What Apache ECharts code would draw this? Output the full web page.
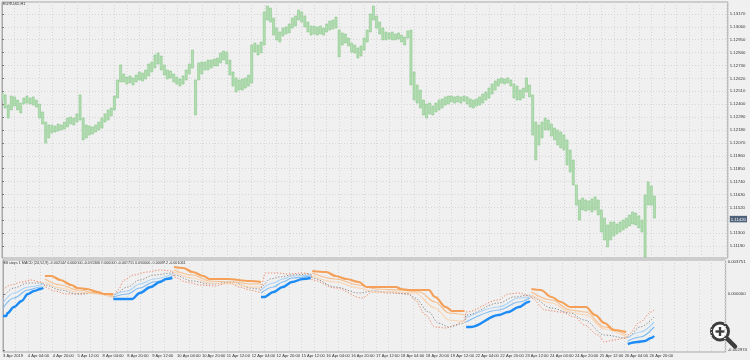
<!DOCTYPE html>
<html><head><meta charset="utf-8">
<script src="https://cdn.jsdelivr.net/npm/echarts@6/dist/echarts.min.js"></script>
<style>html,body{margin:0;padding:0;background:#f0f0f0;}#c{width:750px;height:360px;}</style>
</head><body><div id="c"></div><script>
// ---------- tick labels ----------
const xTickLabels = ['3 Apr 2019','4 Apr 04:00','4 Apr 20:00','5 Apr 12:00','8 Apr 04:00','8 Apr 20:00','9 Apr 12:00','10 Apr 04:00','10 Apr 20:00','11 Apr 12:00','12 Apr 04:00','12 Apr 20:00','15 Apr 12:00','16 Apr 04:00','16 Apr 20:00','17 Apr 12:00','18 Apr 04:00','18 Apr 20:00','19 Apr 12:00','22 Apr 04:00','22 Apr 20:00','23 Apr 12:00','24 Apr 04:00','24 Apr 20:00','25 Apr 12:00','26 Apr 04:00','26 Apr 20:00'];
const xTickValues = [0,16,32,48,64,80,96,112,128,144,160,176,192,208,224,240,256,272,288,304,320,336,352,368,384,400,416];
const priceTicks = [1.1119,1.1130,1.1141,1.1152,1.1163,1.1174,1.1185,1.1196,1.1207,1.1218,1.1229,1.1240,1.1251,1.1262,1.1273,1.1284,1.1295,1.1306,1.1317];
const priceLabelValues = [1.1119,1.1130,1.1142,1.1152,1.1163,1.1174,1.1185,1.1196,1.1207,1.1218,1.1229,1.1240,1.1251,1.1262,1.1273,1.1284,1.1295,1.1306,1.1317];
const currentPrice = 1.1142;
const indLabelValues = [0.001641, 0, -0.002871];
const indLabelTexts = ['0.003751', '0.000000', '-0.002974'];
const chartTitle = 'EURUSD,H1';
const indicatorTitle = 'BB stops 1 MACD (24,52,9) -0.002144 0.000000 -0.001306 0.000000 -0.001711 0.000000 -0.000912 -0.001061';

// ---------- price bars (every 2nd hourly bar: high / low) ----------
const highs = [1.12496,1.12479,1.12393,1.12470,1.12462,1.12436,1.12410,1.12453,1.12470,1.12453,
1.12462,1.12436,1.12402,1.12334,1.12248,1.12223,1.12223,1.12214,1.12231,1.12223,
1.12248,1.12282,1.12291,1.12282,1.12317,1.12479,1.12282,1.12223,1.12214,1.12206,
1.12223,1.12248,1.12282,1.12317,1.12351,1.12368,1.12470,1.12607,1.12735,1.12658,
1.12632,1.12641,1.12624,1.12649,1.12675,1.12666,1.12692,1.12743,1.12760,1.12820,
1.12837,1.12811,1.12735,1.12692,1.12683,1.12658,1.12632,1.12615,1.12641,1.12692,
1.12743,1.12862,1.12607,1.12752,1.12760,1.12760,1.12777,1.12777,1.12786,1.12794,
1.12837,1.12854,1.12845,1.12777,1.12675,1.12624,1.12607,1.12615,1.12624,1.12649,
1.12905,1.12922,1.12905,1.12931,1.13187,1.13238,1.13221,1.13135,1.13050,1.13016,
1.13050,1.13059,1.13084,1.13135,1.13153,1.13204,1.13187,1.13153,1.13101,1.13067,
1.13067,1.13059,1.13067,1.13050,1.13084,1.13110,1.13118,1.13144,1.13033,1.13008,
1.12999,1.12965,1.12922,1.12905,1.12880,1.12897,1.12965,1.13033,1.13170,1.13238,
1.13153,1.13101,1.13050,1.13016,1.13008,1.13016,1.12999,1.13008,1.12990,1.12973,
1.13025,1.13033,1.12675,1.12564,1.12521,1.12436,1.12402,1.12410,1.12385,1.12410,
1.12436,1.12445,1.12462,1.12470,1.12470,1.12462,1.12470,1.12462,1.12470,1.12462,
1.12445,1.12436,1.12445,1.12462,1.12487,1.12504,1.12538,1.12572,1.12598,1.12615,
1.12624,1.12615,1.12624,1.12607,1.12572,1.12555,1.12521,1.12538,1.12624,1.12564,
1.12479,1.12248,1.12223,1.12248,1.12282,1.12265,1.12231,1.12197,1.12180,1.12163,
1.12137,1.12095,1.12009,1.11924,1.11711,1.11583,1.11600,1.11583,1.11574,1.11592,
1.11609,1.11583,1.11498,1.11429,1.11370,1.11395,1.11395,1.11378,1.11395,1.11412,
1.11429,1.11455,1.11481,1.11472,1.11447,1.11412,1.11626,1.11737,1.11702,1.11617];
const lows = [1.12436,1.12368,1.12282,1.12351,1.12385,1.12351,1.12325,1.12402,1.12410,1.12402,
1.12393,1.12376,1.12282,1.12231,1.12069,1.12112,1.12155,1.12163,1.12172,1.12180,
1.12189,1.12206,1.12231,1.12223,1.12248,1.12265,1.12095,1.12112,1.12137,1.12146,
1.12163,1.12180,1.12197,1.12248,1.12265,1.12300,1.12351,1.12453,1.12590,1.12590,
1.12572,1.12581,1.12564,1.12590,1.12607,1.12598,1.12615,1.12641,1.12675,1.12709,
1.12743,1.12692,1.12649,1.12615,1.12624,1.12590,1.12572,1.12555,1.12572,1.12607,
1.12658,1.12709,1.12308,1.12607,1.12658,1.12692,1.12692,1.12709,1.12726,1.12726,
1.12752,1.12777,1.12743,1.12649,1.12555,1.12504,1.12521,1.12521,1.12538,1.12555,
1.12581,1.12845,1.12820,1.12837,1.12905,1.13118,1.13101,1.12990,1.12948,1.12931,
1.12982,1.12999,1.13008,1.13050,1.13067,1.13118,1.13101,1.13059,1.13016,1.12990,
1.12999,1.12990,1.12999,1.12990,1.13016,1.13033,1.13042,1.13050,1.12803,1.12905,
1.12922,1.12897,1.12845,1.12837,1.12794,1.12811,1.12862,1.12931,1.13016,1.13118,
1.13050,1.12999,1.12948,1.12948,1.12956,1.12948,1.12948,1.12956,1.12931,1.12905,
1.12965,1.12564,1.12436,1.12410,1.12368,1.12308,1.12282,1.12317,1.12308,1.12334,
1.12351,1.12368,1.12393,1.12402,1.12419,1.12410,1.12419,1.12410,1.12427,1.12402,
1.12376,1.12368,1.12385,1.12393,1.12410,1.12436,1.12453,1.12487,1.12521,1.12555,
1.12581,1.12572,1.12581,1.12555,1.12453,1.12436,1.12436,1.12453,1.12504,1.12462,
1.12137,1.11924,1.12052,1.12112,1.12180,1.12180,1.12129,1.12095,1.12052,1.12027,
1.12009,1.11882,1.11822,1.11711,1.11540,1.11412,1.11498,1.11489,1.11498,1.11481,
1.11498,1.11455,1.11310,1.11242,1.11182,1.11242,1.11276,1.11293,1.11310,1.11327,
1.11344,1.11361,1.11378,1.11370,1.11344,1.11310,1.11097,1.11540,1.11540,1.11429];

// ---------- indicator lines: [bar index, value] ----------
const bandLine = [[0,0.000205],[5,0.000462],[12,0.000615],[18,0.000718],[24,0.000615],[26,0.000564],
[27,0.000359],[33,0.000154],[41,0],[50,0],[58,0.000051],[67,-0.000051],[71,-0.000154],
[74,0.000205],[78,0.000718],[84,0.000974],[93,0.001128],[101,0.001231],[109,0.001179],
[110,0.000872],[118,0.000615],[127,0.000462],[135,0.000410],[146,0.000564],[152,0.000359],[159,0.000205],[165,0.000103],
[169,0.001077],[176,0.001077],[184,0.001026],[193,0.001077],[198,0.001026],
[199,0.000718],[214,0.000308],[231,-0.000205],[238,0.000103],[248,0.000051],[261,0],[265,-0.000308],[272,-0.001077],[278,-0.001692],[285,-0.001744],[291,-0.001590],[297,-0.001333],
[298,-0.000923],[319,-0.000308],[325,0],[332,0.000051],[339,-0.000103],
[340,-0.000205],[349,-0.000821],[359,-0.000923],[368,-0.001179],[374,-0.001590],[383,-0.002103],[387,-0.002462],[393,-0.002359],[401,-0.002256],
[402,-0.002103],[410,-0.001436],[417,-0.000923],[419,-0.000821]];
const midLine = [[0,-0.000154],[7,0.000308],[16,0.000564],[24,0.000564],[26,0.000513],
[27,0.000462],[37,0.000205],[48,0],[61,0.000051],[71,-0.000154],
[73,0.000051],[80,0.000359],[88,0.000718],[97,0.000974],[109,0.001077],
[110,0.000974],[122,0.000667],[133,0.000513],[148,0.000615],[159,0.000308],[165,0.000256],
[166,0.000359],[172,0.000769],[178,0.000872],[186,0.000974],[198,0.001026],
[199,0.000821],[214,0.000359],[229,0.000051],[238,0.000154],[248,0.000103],[261,0],[265,-0.000205],[274,-0.000923],[280,-0.001487],[287,-0.001692],[297,-0.001487],
[298,-0.001077],[319,-0.000462],[329,-0.000154],[339,-0.000051],
[340,-0.000154],[353,-0.000718],[365,-0.000974],[374,-0.001333],[387,-0.002103],[401,-0.002256],
[402,-0.002205],[410,-0.001692],[419,-0.001179]];
const stopUp = [[0,-0.001128],[2,-0.001128],[3,-0.000974],[7,-0.000667],[12,-0.000359],[16,0],[20,0.000154],[24,0.000256],[26,0.000308],[27,'-'],
[71,-0.000256],[83,-0.000256],[88,0.000051],[95,0.000359],[101,0.000615],[105,0.000769],[109,0.000821],[110,'-'],
[166,-0.000154],[168,-0.000154],[174,0.000103],[180,0.000359],[186,0.000615],[193,0.000769],[198,0.000821],[199,'-'],
[298,-0.001692],[301,-0.001692],[319,-0.001077],[325,-0.000923],[332,-0.000667],[338,-0.000410],[339,-0.000359],[340,'-'],
[402,-0.002564],[408,-0.002462],[413,-0.002410],[417,-0.002256],[419,-0.002154]];
const upLevel1 = [[0,-0.000718],[7,-0.000205],[16,0.000205],[24,0.000359],[26,0.000359],[27,'-'],
[71,-0.000154],[80,0],[88,0.000308],[97,0.000615],[109,0.000923],[110,'-'],
[166,0.000051],[174,0.000359],[180,0.000615],[186,0.000821],[198,0.000923],[199,'-'],
[298,-0.001436],[319,-0.000821],[332,-0.000410],[339,-0.000205],[340,'-'],
[402,-0.002410],[410,-0.002205],[419,-0.001692]];
const upLevel2 = [[0,-0.000462],[7,0.000051],[16,0.000359],[26,0.000513],[27,'-'],
[71,-0.000051],[80,0.000154],[88,0.000513],[97,0.000769],[109,0.001026],[110,'-'],
[166,0.000205],[174,0.000564],[180,0.000769],[186,0.000923],[198,0.000974],[199,'-'],
[298,-0.001231],[319,-0.000667],[332,-0.000205],[339,-0.000154],[340,'-'],
[402,-0.002256],[410,-0.001949],[419,-0.001436]];
const stopDown = [[27,0.000923],[31,0.000923],[37,0.000718],[44,0.000462],[48,0.000308],[54,0.000256],[61,0.000103],[65,0],[71,0],[72,'-'],
[110,0.001385],[116,0.001333],[122,0.001128],[129,0.000923],[133,0.000769],[144,0.000769],[159,0.000667],[166,0.000615],[167,'-'],
[199,0.001179],[208,0.001128],[214,0.000923],[221,0.000769],[229,0.000615],[234,0.000359],[240,0.000359],[253,0.000359],[256,0.000256],[261,0.000205],[274,0.000205],[278,-0.000154],[285,-0.000667],[289,-0.000872],[297,-0.000872],[298,'-'],
[340,0.000256],[346,0.000205],[353,-0.000154],[359,-0.000410],[365,-0.000667],[375,-0.000667],[381,-0.001077],[387,-0.001487],[393,-0.001846],[401,-0.001949]];
const dnLevel1 = [[27,0.000769],[37,0.000462],[48,0.000205],[61,0.000051],[71,-0.000103],[72,'-'],
[110,0.001231],[122,0.000974],[133,0.000667],[148,0.000615],[159,0.000513],[166,0.000513],[167,'-'],
[199,0.001077],[214,0.000769],[229,0.000462],[240,0.000256],[255,0.000205],[268,0.000103],[278,-0.000410],[287,-0.000974],[297,-0.001077],[298,'-'],
[340,0.000103],[353,-0.000308],[365,-0.000821],[375,-0.000923],[387,-0.001692],[401,-0.002103]];
const dnLevel2 = [[27,0.000615],[37,0.000308],[48,0.000103],[61,0],[71,-0.000154],[72,'-'],
[110,0.001128],[122,0.000821],[133,0.000564],[148,0.000513],[159,0.000359],[166,0.000359],[167,'-'],
[199,0.000923],[214,0.000615],[229,0.000308],[240,0.000103],[255,0.000103],[265,0.000051],[278,-0.000718],[287,-0.001333],[297,-0.001436],[298,'-'],
[340,-0.000051],[353,-0.000462],[365,-0.000923],[375,-0.001077],[387,-0.001795],[401,-0.002205]];

// ---------- chart ----------
const FONT = "'Liberation Sans', Arial, sans-serif";
const chart = echarts.init(document.getElementById('c'), null, { renderer: 'canvas' });
const gridLine = { color: '#d6d6d6', width: 1, type: [1, 2] };
const priceData = highs.map((h, i) => [2 * i, h, lows[i]]);

function ind(data, color, width, dotted, z) {
  return {
    type: 'line', xAxisIndex: 1, yAxisIndex: 1, data: data, showSymbol: false, symbol: 'none',
    smooth: 0.35, smoothMonotone: 'x', connectNulls: false, z: z, silent: true, clip: true,
    lineStyle: { color: color, width: width, type: dotted ? [1.3, 1.7] : 'solid', cap: 'butt' }
  };
}

chart.setOption({
  backgroundColor: '#f0f0f0',
  animation: false,
  textStyle: { fontFamily: FONT },
  grid: [
    { left: 2, right: 21, top: 2, height: 256, show: true, borderColor: '#a9a9a9', borderWidth: 1 },
    { left: 2, right: 21, top: 260, height: 92, show: true, borderColor: '#a9a9a9', borderWidth: 1 }
  ],
  xAxis: [
    { type: 'value', gridIndex: 0, min: 0, max: 465, interval: 8,
      axisLine: { show: false }, axisTick: { show: false }, axisLabel: { show: false },
      splitLine: { show: true, lineStyle: gridLine } },
    { type: 'value', gridIndex: 1, min: 0, max: 465, interval: 8,
      axisLine: { show: false }, axisTick: { show: false },
      axisLabel: { show: true, customValues: xTickValues,
        formatter: v => xTickLabels[Math.round(v / 16)],
        fontSize: 4.1, color: '#333', fontFamily: FONT, align: 'left', margin: 2 },
      splitLine: { show: true, lineStyle: gridLine } }
  ],
  yAxis: [
    { type: 'value', gridIndex: 0, position: 'right', min: 1.11088, max: 1.13272,
      axisLine: { show: true, lineStyle: { color: '#a9a9a9' } },
      axisTick: { show: true, customValues: priceTicks, length: 2, lineStyle: { color: '#777' } },
      axisLabel: { show: true, customValues: priceLabelValues, margin: 2, fontSize: 4.3, color: '#333', fontFamily: FONT,
        formatter: v => Math.abs(v - currentPrice) < 1e-7 ? '{cur|' + v.toFixed(5) + '}' : v.toFixed(5),
        rich: { cur: { backgroundColor: '#4e6179', color: '#ffffff', fontSize: 4.3, fontFamily: FONT, padding: [1.5, 1, 1, 1] } } },
      splitLine: { show: true, lineStyle: gridLine } },
    { type: 'value', gridIndex: 1, position: 'right', min: -0.002974, max: 0.001744,
      axisLine: { show: true, lineStyle: { color: '#a9a9a9' } },
      axisTick: { show: true, customValues: indLabelValues, length: 2, lineStyle: { color: '#777' } },
      axisLabel: { show: true, customValues: indLabelValues, margin: 2, fontSize: 4.3, color: '#333', fontFamily: FONT,
        formatter: v => indLabelTexts[indLabelValues.findIndex(t => Math.abs(t - v) < 1e-9)] },
      splitLine: { show: false } }
  ],
  series: [
    { type: 'custom', xAxisIndex: 0, yAxisIndex: 0, clip: true, silent: true, z: 3,
      data: priceData, encode: { x: 0, y: [1, 2] },
      renderItem: function (params, api) {
        const x = api.value(0);
        const top = api.coord([x, api.value(1)]);
        const bot = api.coord([x, api.value(2)]);
        const w = 2.1;
        return { type: 'rect',
          shape: { x: top[0] - w / 2, y: top[1], width: w, height: Math.max(1, bot[1] - top[1]) },
          style: { fill: '#b3ddb3', stroke: '#84c784', lineWidth: 0.55 } };
      },
      markLine: { silent: true, symbol: 'none', label: { show: false }, animation: false,
        lineStyle: { color: '#9ba6b3', width: 1.2, type: 'solid' },
        data: [{ yAxis: currentPrice }] } },
    ind(bandLine, '#ef8a6c', 1, true, 2),
    ind(midLine, '#8e8e8e', 1, true, 2),
    ind(upLevel2, '#acd3f6', 1.2, false, 3),
    ind(upLevel1, '#7fbcf2', 1.2, false, 3),
    ind(dnLevel2, '#f9d4b2', 1.2, false, 3),
    ind(dnLevel1, '#f6be8c', 1.2, false, 3),
    ind(stopUp, '#1e8cf5', 2.4, false, 4),
    ind(stopDown, '#f4a058', 2.2, false, 4)
  ],
  graphic: [
    { type: 'text', x: 3, y: 2, silent: true, style: { text: chartTitle, fontSize: 3.9, fontFamily: FONT, fill: '#333' } },
    { type: 'text', x: 3, y: 261, silent: true, style: { text: indicatorTitle, fontSize: 3.7, fontFamily: FONT, fill: '#333' } },
    { type: 'group', x: 709, y: 320, silent: true, children: [
      { type: 'circle', shape: { cx: 11, cy: 11.5, r: 8.5 }, style: { fill: 'rgba(255,255,255,0.92)', stroke: '#3d3d3d', lineWidth: 3 } },
      { type: 'line', shape: { x1: 17.5, y1: 18, x2: 26, y2: 26.5 }, style: { stroke: '#3d3d3d', lineWidth: 4.5, lineCap: 'round' } },
      { type: 'line', shape: { x1: 6.5, y1: 11.5, x2: 15.5, y2: 11.5 }, style: { stroke: '#3d3d3d', lineWidth: 2.4 } },
      { type: 'line', shape: { x1: 11, y1: 7, x2: 11, y2: 16 }, style: { stroke: '#3d3d3d', lineWidth: 2.4 } }
    ] }
  ]
});
</script></body></html>
